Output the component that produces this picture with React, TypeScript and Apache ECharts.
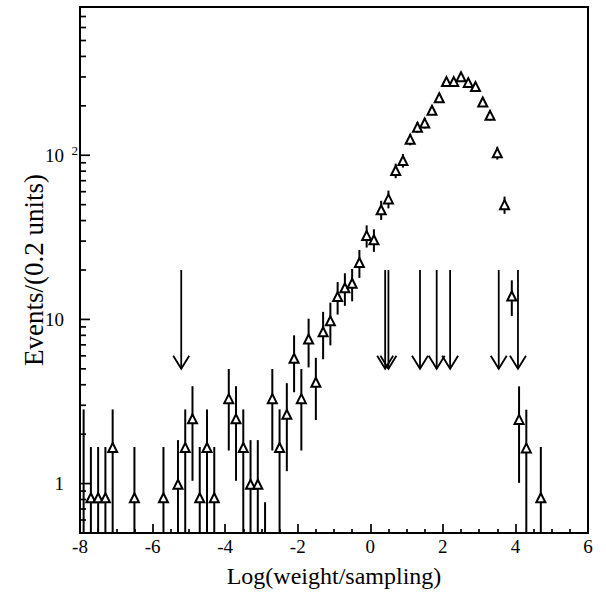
import React, { useEffect, useRef } from 'react';
import * as echarts from 'echarts';

const X_MIN = -8;
const X_MAX = 6;
const Y_MIN = 0.5;
const Y_MAX = 800;

// bin centres (0.2 units wide)
const binCenters = [
  -7.9, -7.7, -7.5, -7.3, -7.1, -6.5, -5.7, -5.3, -5.1, -4.9, -4.7, -4.5, -4.3,
  -3.9, -3.7, -3.5, -3.3, -3.1, -2.9, -2.7, -2.5, -2.3, -2.1, -1.9, -1.7, -1.5,
  -1.3, -1.1, -0.9, -0.7, -0.5, -0.3, -0.1, 0.1, 0.3, 0.5, 0.7, 0.9, 1.1, 1.3,
  1.5, 1.7, 1.9, 2.1, 2.3, 2.5, 2.7, 2.9, 3.1, 3.3, 3.5, 3.7, 3.9, 4.1, 4.3, 4.7,
];
const eventValues = [
  0.3, 0.82, 0.82, 0.82, 1.66, 0.82, 0.82, 0.99, 1.66, 2.48, 0.82, 1.66, 0.82,
  3.29, 2.48, 1.66, 0.99, 0.99, 0.25, 3.29, 1.66, 2.64, 5.8, 3.29, 7.6, 4.14,
  8.42, 9.8, 13.8, 15.6, 16.6, 22.2, 32.4, 30.6, 46.6, 54.2, 80.7, 92.9, 125, 148,
  157, 188, 224, 281, 281, 301, 277, 262, 211, 175, 103.4, 50, 13.9, 2.46, 1.65, 0.82,
];
const eventErrors = [
  2.53, 0.85, 0.85, 0.85, 1.17, 0.85, 0.85, 0.85, 1.17, 1.44, 0.85, 1.17, 0.85,
  1.7, 1.44, 1.17, 0.85, 0.85, 0.52, 1.7, 1.17, 1.45, 2.2, 1.7, 2.5, 1.7,
  2.7, 2.85, 3.1, 3.5, 3.7, 4.3, 5.0, 4.8, 6.2, 6.7, 8.2, 8.8, 10, 11,
  11.5, 12.5, 13.6, 15.3, 15.3, 15.8, 15.2, 14.7, 13.2, 12, 9.3, 6, 3.4, 1.45, 1.17, 0.85,
];

// downward arrows (upper limits)
const arrowX = [-5.21, 0.41, 0.5, 1.37, 1.83, 2.2, 3.54, 4.07];
const arrowFrom = 20;
const arrowTo = 5;

const xTickValues = [-8, -6, -4, -2, 0, 2, 4, 6];
const yMajorTicks = [1, 10, 100];
const yMinorTicks = [
  0.6, 0.7, 0.8, 0.9, 2, 3, 4, 5, 6, 7, 8, 9, 20, 30, 40, 50, 60, 70, 80, 90,
  200, 300, 400, 500, 600, 700,
];

const FONT = '"Liberation Serif", "DejaVu Serif", serif';

export default function App() {
  const ref = useRef<HTMLDivElement>(null);

  useEffect(() => {
    document.body.style.margin = '0';
    if (!ref.current) return;
    const chart = echarts.init(ref.current, null, { renderer: 'svg' });

    const errData = binCenters.map((x, i) => {
      const v = eventValues[i];
      const e = eventErrors[i];
      const lo = Math.max(v - e, Y_MIN);
      const hi = Math.min(v + e, Y_MAX);
      return [x, lo, hi];
    });
    const pointData = binCenters
      .map((x, i) => [x, eventValues[i]])
      .filter((d) => d[1] >= Y_MIN);
    const arrowData = arrowX.map((x) => [x, arrowFrom, arrowTo]);
    const tickData = [
      ...yMajorTicks.map((v) => [X_MIN, v, 10]),
      ...yMinorTicks.map((v) => [X_MIN, v, 6]),
    ];

    const isPow10 = (v: number) => {
      const l = Math.log10(v);
      return Math.abs(l - Math.round(l)) < 1e-6;
    };

    chart.setOption({
      animation: false,
      backgroundColor: '#fff',
      grid: {
        left: 80,
        right: 18,
        top: 7,
        bottom: 62,
        show: true,
        borderColor: '#000',
        borderWidth: 2,
        backgroundColor: 'transparent',
      },
      xAxis: {
        type: 'value',
        min: X_MIN,
        max: X_MAX,
        interval: 2,
        name: 'Log(weight/sampling)',
        nameLocation: 'middle',
        nameGap: 31,
        nameTextStyle: { fontFamily: FONT, fontSize: 24, color: '#000' },
        axisLine: { show: true, onZero: false, lineStyle: { color: '#000', width: 2 } },
        axisTick: { show: true, inside: true, length: 9, lineStyle: { color: '#000', width: 1.7 } },
        minorTick: { show: true, splitNumber: 4, length: 4, lineStyle: { color: '#000', width: 1.7 } },
        splitLine: { show: false },
        minorSplitLine: { show: false },
        axisLabel: {
          margin: 4,
          fontFamily: FONT,
          fontSize: 19,
          color: '#000',
          formatter: (v: number) => (xTickValues.includes(v) ? String(v) : ''),
        },
      },
      yAxis: {
        type: 'log',
        logBase: 10,
        min: Y_MIN,
        max: Y_MAX,
        name: 'Events/(0.2 units)',
        nameLocation: 'middle',
        nameGap: 33,
        nameMoveOverlap: false,
        nameTextStyle: { fontFamily: FONT, fontSize: 27, color: '#000' },
        axisLine: { show: true, onZero: false, lineStyle: { color: '#000', width: 2 } },
        axisTick: { show: false },
        minorTick: { show: false },
        splitLine: { show: false },
        axisLabel: {
          margin: 2,
          align: 'right',
          showMinLabel: true,
          showMaxLabel: true,
          formatter: (v: number) => {
            if (!isPow10(v)) return '';
            const p = Math.round(Math.log10(v));
            if (p >= 2) return `{a|10}{sup|${p}}`;
            return `{a|${Math.round(v)}}{sp| }`;
          },
          rich: {
            a: { fontFamily: FONT, fontSize: 19, color: '#000' },
            sup: {
              fontFamily: FONT,
              fontSize: 13,
              color: '#000',
              width: 14,
              align: 'right',
              verticalAlign: 'top',
              padding: [0, 0, 10, 0],
            },
            sp: { fontFamily: FONT, fontSize: 13, width: 14 },
          },
        },
      },
      series: [
        {
          type: 'custom',
          silent: true,
          z: 1,
          data: tickData,
          renderItem: (_p: any, api: any) => {
            const pt = api.coord([api.value(0), api.value(1)]);
            const len = api.value(2);
            return {
              type: 'line',
              shape: { x1: pt[0], y1: pt[1], x2: pt[0] + len, y2: pt[1] },
              style: { stroke: '#000', lineWidth: 1.7 },
            };
          },
        },
        {
          type: 'custom',
          silent: true,
          z: 2,
          data: errData,
          encode: { x: 0, y: [1, 2] },
          renderItem: (_p: any, api: any) => {
            const x = api.value(0);
            const a = api.coord([x, api.value(1)]);
            const b = api.coord([x, api.value(2)]);
            return {
              type: 'line',
              shape: { x1: a[0], y1: a[1], x2: b[0], y2: b[1] },
              style: { stroke: '#000', lineWidth: 2 },
            };
          },
        },
        {
          type: 'custom',
          silent: true,
          z: 2,
          data: arrowData,
          encode: { x: 0, y: [1, 2] },
          renderItem: (_p: any, api: any) => {
            const x = api.value(0);
            const top = api.coord([x, api.value(1)]);
            const tip = api.coord([x, api.value(2)]);
            return {
              type: 'group',
              children: [
                {
                  type: 'line',
                  shape: { x1: top[0], y1: top[1], x2: tip[0], y2: tip[1] },
                  style: { stroke: '#000', lineWidth: 1.8 },
                },
                {
                  type: 'polyline',
                  shape: {
                    points: [
                      [tip[0] - 8, tip[1] - 13],
                      [tip[0], tip[1]],
                      [tip[0] + 8, tip[1] - 13],
                    ],
                  },
                  style: { stroke: '#000', lineWidth: 1.8, fill: null },
                },
              ],
            };
          },
        },
        {
          type: 'scatter',
          silent: true,
          z: 3,
          symbol: 'triangle',
          symbolSize: [9, 9],
          itemStyle: { color: '#fff', borderColor: '#000', borderWidth: 2, opacity: 1 },
          data: pointData,
        },
      ],
    });

    return () => chart.dispose();
  }, []);

  return <div ref={ref} style={{ width: 606, height: 595 }} />;
}
